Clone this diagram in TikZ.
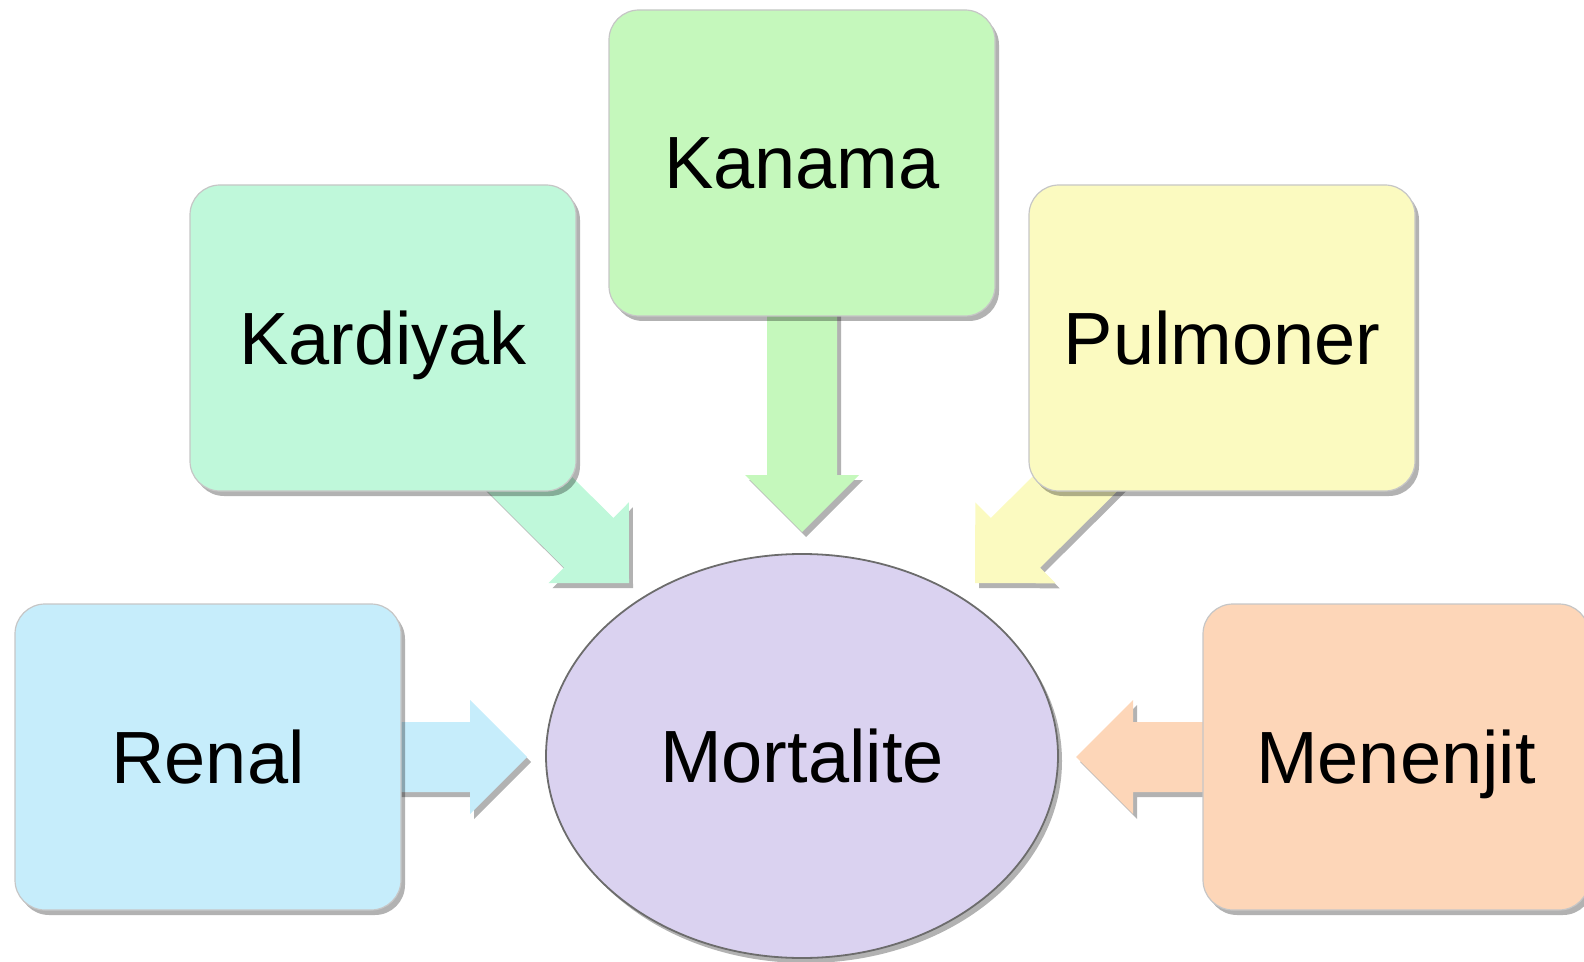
\documentclass[tikz,border=0pt]{standalone}
\usepackage{fontspec}
\setmainfont{Liberation Sans}
\usetikzlibrary{shapes.geometric, shadows, backgrounds, calc}

\definecolor{kanamaC}{HTML}{C5F8BC}
\definecolor{kardiyakC}{HTML}{BFF8DA}
\definecolor{pulmonerC}{HTML}{FBFAC0}
\definecolor{renalC}{HTML}{C6EDFB}
\definecolor{menenjitC}{HTML}{FDD6B8}
\definecolor{mortaliteC}{HTML}{DAD2F0}

\tikzset{
    shade/.style={drop shadow={shadow xshift=2pt, shadow yshift=-2.5pt, opacity=0.3, fill=black}},
    box/.style={draw=gray!45, line width=0.6pt, rounded corners=15pt, minimum width=193pt, minimum height=153pt, shade},
}

\newcommand\bigarrow[3]{%
    \path[fill=#1, shade] let \p1=(#2), \p2=(#3), \n1={atan2(\y2-\y1,\x2-\x1)}, \n2={veclen(\x2-\x1,\y2-\y1)} in
        [shift={(\p2)}, rotate=\n1] (0,0) -- (-28.5pt,28.5pt) -- (-28.5pt,17.5pt) -- (-\n2,17.5pt)
        -- (-\n2,-17.5pt) -- (-28.5pt,-17.5pt) -- (-28.5pt,-28.5pt) -- cycle;}

\begin{document}
\begin{tikzpicture}[x=0.5pt, y=0.5pt, every node/.style={font=\fontsize{37}{44}\selectfont, text depth=0pt}]
    \useasboundingbox (0,0) rectangle (1584,-962);

    \node[box, fill=kanamaC] (kanama) at (802,-163) {Kanama};
    \node[box, fill=kardiyakC] (kardiyak) at (383,-338) {Kardiyak};
    \node[box, fill=pulmonerC] (pulmoner) at (1222,-338) {Pulmoner};
    \node[box, fill=renalC] (renal) at (208,-757) {Renal};
    \node[box, fill=menenjitC] (menenjit) at (1396,-757) {Menenjit};
    \node[ellipse, draw=gray!85!black, line width=0.9pt, fill=mortaliteC, inner sep=0pt,
        minimum width=256pt, minimum height=202pt, shade] (mortalite) at (802,-756) {Mortalite};

    \coordinate (kanamaT) at (802,-532);
    \coordinate (kardiyakT) at (629,-583);
    \coordinate (pulmonerT) at (975,-583);
    \coordinate (renalT) at (527,-757);
    \coordinate (menenjitT) at (1076,-757);

    \begin{scope}[on background layer]
        \bigarrow{kanamaC}{kanama}{kanamaT}
        \bigarrow{kardiyakC}{kardiyak}{kardiyakT}
        \bigarrow{pulmonerC}{pulmoner}{pulmonerT}
        \bigarrow{renalC}{renal}{renalT}
        \bigarrow{menenjitC}{menenjit}{menenjitT}
    \end{scope}
\end{tikzpicture}
\end{document}
